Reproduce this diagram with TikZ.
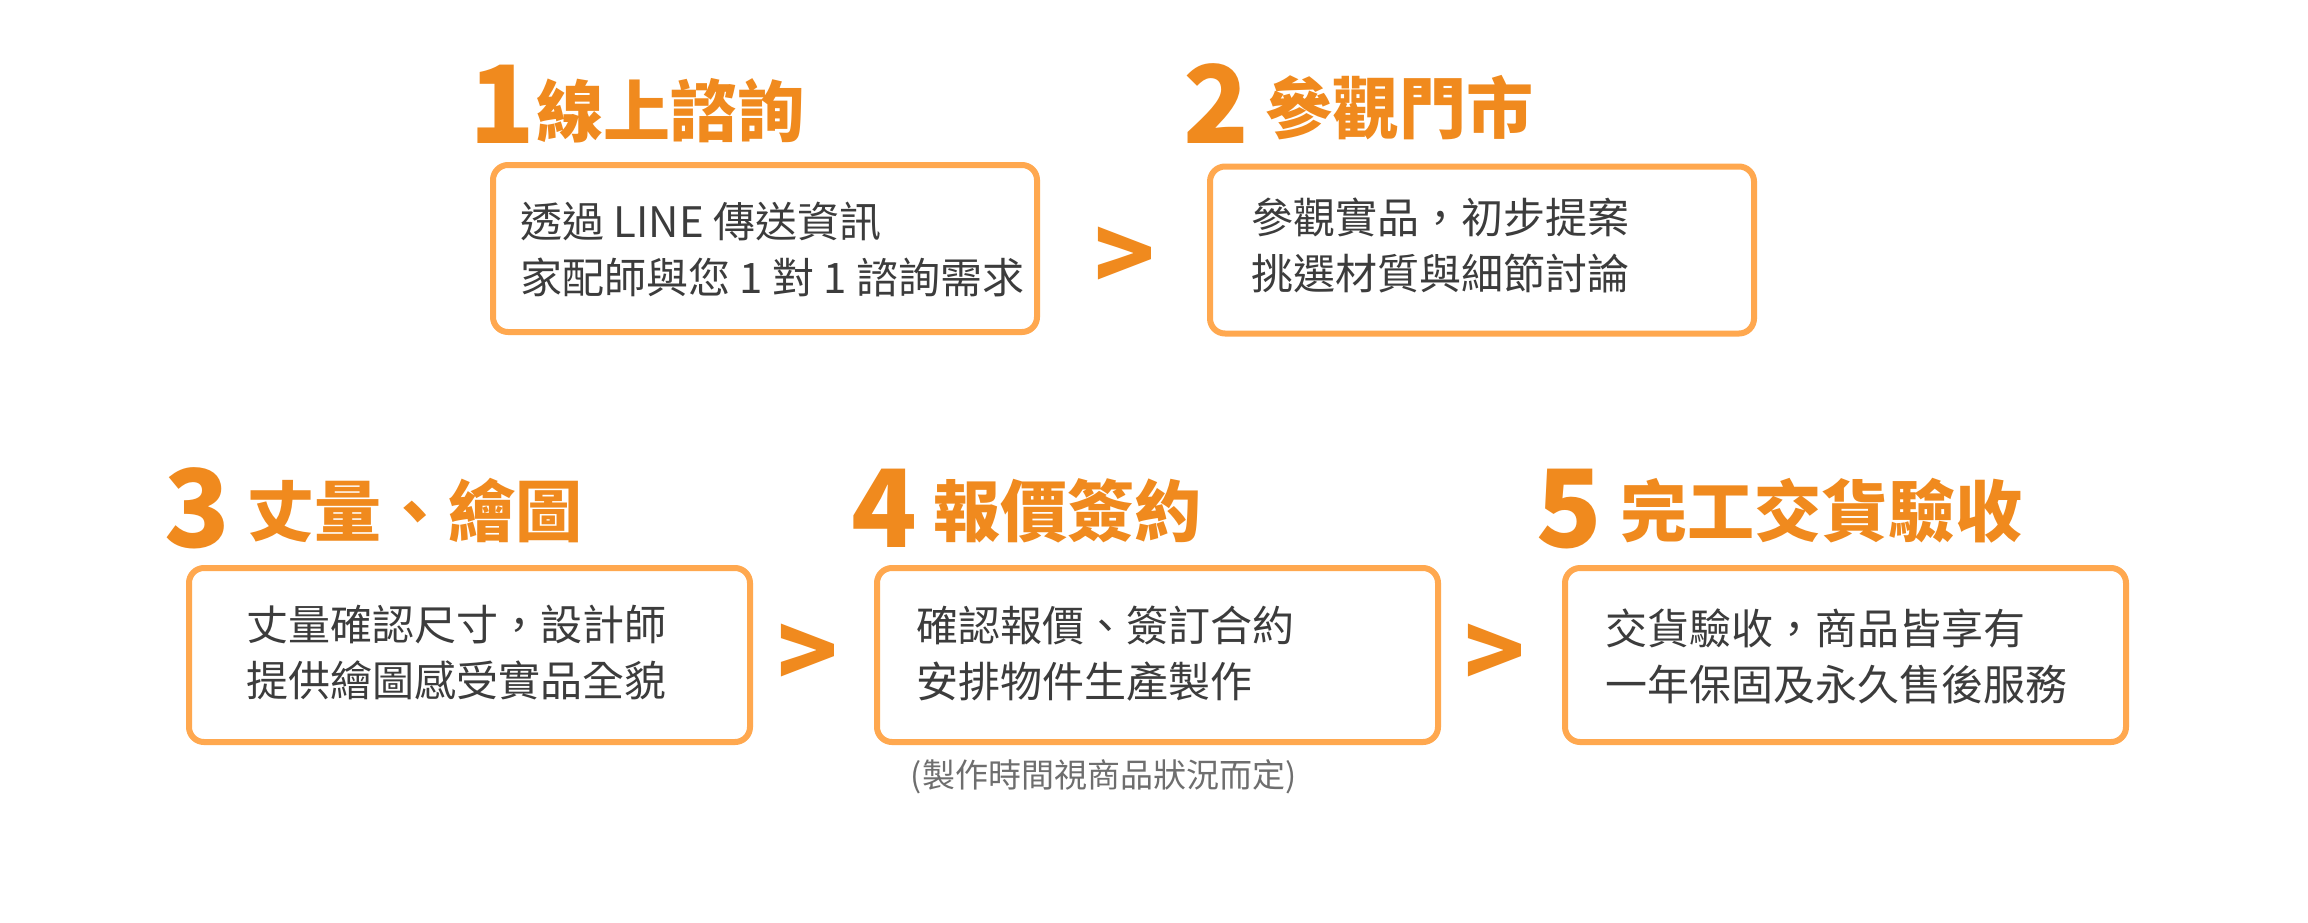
\documentclass[tikz,border=0pt]{standalone}
\usepackage{fontspec}
\setmainfont{Noto Sans CJK TC}
\definecolor{titleorange}{HTML}{F08A1E}
\definecolor{boxorange}{HTML}{FFA84F}
\definecolor{bodygray}{HTML}{3C3C3C}
\definecolor{notegray}{HTML}{6E6E6E}
\tikzset{
  boxbase/.style={draw=boxorange, line width=6pt, rounded corners=15pt, inner sep=0pt, fill=white},
  boxtop/.style={boxbase, minimum width=544pt, minimum height=167pt},
  boxbot/.style={boxbase, minimum width=561pt, minimum height=174pt},
  bodytext/.style={anchor=base west, inner sep=0pt, align=left, text=bodygray, font=\fontsize{42}{56}\selectfont},
  numeral/.style={anchor=base, inner sep=0pt, text=titleorange, font=\fontsize{108}{108}\selectfont\bfseries},
  steptitle/.style={anchor=base west, inner sep=0pt, text=titleorange, font=\fontsize{67}{67}\selectfont\bfseries},
  gtsign/.style={inner sep=0pt, text=titleorange, font=\fontsize{100}{100}\selectfont\bfseries},
  notetext/.style={anchor=base, inner sep=0pt, text=notegray, font=\fontsize{33}{33}\selectfont}
}
\begin{document}
\begin{tikzpicture}[x=1pt,y=-1pt]
\useasboundingbox[fill=white] (0,0) rectangle (2308,922);
% step 1
\node[numeral] (n1) at (502,143) {1};
\node[steptitle] (t1) at (536,136) {線上諮詢};
\node[boxtop] (b1) at (765,248.5) {};
\node[bodytext] (x1) at (520,293) {透過 LINE 傳送資訊\\家配師與您 1 對 1 諮詢需求};
% step 2
\node[numeral] (n2) at (1216,143) {2};
\node[steptitle] (t2) at (1265,133) {參觀門市};
\node[boxtop] (b2) at (1482,250) {};
\node[bodytext] (x2) at (1251,289) {參觀實品，初步提案\\挑選材質與細節討論};
% step 3
\node[numeral] (n3) at (197,547) {3};
\node[steptitle] (t3) at (247,536) {丈量、繪圖};
\node[boxbot] (b3) at (469.5,655) {};
\node[bodytext] (x3) at (246,696) {丈量確認尺寸，設計師\\提供繪圖感受實品全貌};
% step 4
\node[numeral] (n4) at (884,547) {4};
\node[steptitle] (t4) at (933,536) {報價簽約};
\node[boxbot] (b4) at (1157.5,655) {};
\node[bodytext] (x4) at (916,697) {確認報價、簽訂合約\\安排物件生產製作};
\node[notetext] (note) at (1103.5,787) {(製作時間視商品狀況而定)};
% step 5
\node[numeral] (n5) at (1569,547) {5};
\node[steptitle] (t5) at (1620,536) {完工交貨驗收};
\node[boxbot] (b5) at (1845.5,655) {};
\node[bodytext] (x5) at (1605,700) {交貨驗收，商品皆享有\\一年保固及永久售後服務};
% separators
\node[gtsign] (g1) at (1125,259) {>};
\node[gtsign] (g2) at (808,656) {>};
\node[gtsign] (g3) at (1495,656) {>};
\end{tikzpicture}
\end{document}
